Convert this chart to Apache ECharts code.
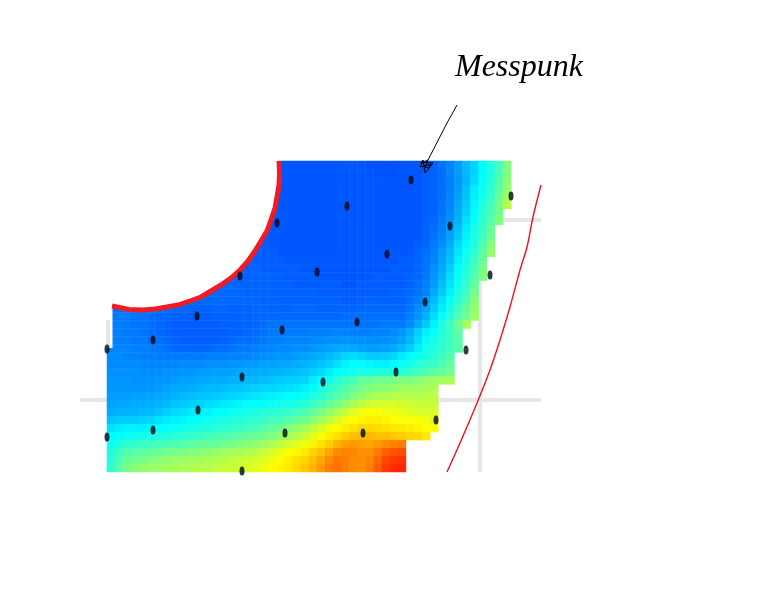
<!DOCTYPE html>
<html><head><meta charset="utf-8">
<style>html,body{margin:0;padding:0;background:#fff}#c{width:768px;height:614px}</style>
<script src="https://cdn.jsdelivr.net/npm/echarts@6/dist/echarts.min.js"></script></head>
<body><div id="c"></div>
<script>
// each row: [first column index, ...values]
const fieldRows = [
 [20,4,4,4,4,4,4,4,4,4,4, 4,4,3,3,3,3,4,4,4,5, 6,9,12,16,21,26,33,38,43,52],
 [20,4,4,4,4,4,4,4,4,4,4, 4,4,4,3,3,3,4,4,4,5, 6,8,12,16,21,26,33,38,44,52],
 [20,4,4,4,4,4,4,4,4,4,4, 4,4,4,4,4,4,4,4,4,5, 6,8,11,15,20,27,34,39,45,53],
 [20,4,4,4,4,4,4,4,4,4,4, 4,4,4,4,4,4,4,4,4,5, 6,8,11,16,22,30,35,40,47,54],
 [20,4,4,4,4,4,4,4,4,4,4, 4,4,4,4,4,4,4,4,4,5, 6,8,12,17,23,31,36,41,48,56],
 [20,4,4,4,4,4,4,4,4,4,4, 4,4,4,4,4,4,4,4,4,5, 6,9,12,18,24,32,38,43,50,58],
 [20,4,4,4,4,4,4,4,4,4,4, 4,4,4,4,4,4,4,4,4,5, 6,9,13,19,26,33,39,44,50],
 [20,4,4,4,4,4,4,4,4,4,4, 4,4,4,4,4,4,4,4,4,6, 7,10,14,20,28,34,40,46,52],
 [19,5, 4,4,4,4,4,4,4,4,4,4, 4,4,4,4,4,4,4,4,4,6, 8,11,16,22,30,36,42,48],
 [19,5, 4,4,4,4,4,4,4,4,4,4, 4,4,4,4,4,4,4,4,4,6, 9,12,17,24,31,37,43,50],
 [18,5,5, 4,4,4,4,4,4,4,4,4,4, 4,4,4,4,4,4,4,4,5,7, 10,14,19,27,33,38,45,52],
 [17,6,5,5, 5,4,4,4,4,4,4,4,4,4, 4,4,4,4,4,4,4,4,6,8, 11,16,21,29,35,40,47,54],
 [16,6,6,5,5, 5,5,4,4,4,4,4,4,4,4, 4,4,4,4,4,4,5,5,6,9, 12,17,23,31,36,42,49],
 [15,7,6,6,6,5, 5,5,5,5,4,4,4,4,4,4, 4,4,4,4,4,5,5,5,7,9, 14,18,25,33,38,44,51],
 [14,7,7,6,6,6,6, 6,6,5,5,5,5,4,4,4,4, 4,4,4,5,5,5,5,6,7,10, 15,20,27,34,39,45,52],
 [13,7,7,7,6,6,6,6, 6,6,6,5,5,5,5,5,5,4, 4,5,5,5,5,5,5,6,8,11, 16,22,29,36,41,48],
 [11,7,7,7,7,7,7,6,6,6, 6,6,6,6,6,6,5,5,5,5, 5,5,5,5,5,6,6,7,9,12, 18,24,31,37,43,50],
 [8,7,7, 7,7,7,7,7,7,7,7,7,6, 6,6,6,6,6,6,6,6,6,5, 5,6,6,6,6,6,6,8,11,16, 21,28,34,40,45,53],
 [0,9,9,9,9,9,9,8,8,7,7, 6,6,6,7,7,6,6,6,7,7, 6,6,6,7,7,7,6,6,6,6, 6,7,7,7,7,7,7,9,13,17, 24,30,36,42,48,54],
 [0,10,10,10,9,9,8,7,7,6,6, 5,5,5,6,6,6,6,6,7,7, 7,7,7,7,7,7,7,7,7,8, 8,8,8,8,8,8,8,11,15,20, 27,33,39,45,50,55],
 [0,11,11,10,9,9,8,7,6,5,5, 5,5,5,5,6,6,6,6,7,8, 9,9,9,9,9,9,9,9,9,9, 9,9,9,9,10,10,10,13,18,24, 31,37,42,49,56],
 [0,11,11,10,10,9,8,7,6,5,5, 5,5,5,5,5,6,6,7,8,9, 10,10,10,10,10,11,11,11,12,12, 11,11,11,12,12,13,15,19,25,31, 34,38,42,47],
 [0,12,11,11,10,10,8,8,7,6,5, 5,5,5,5,6,7,8,8,9,10, 11,11,12,12,12,13,13,14,14,15, 14,14,13,13,14,15,17,21,27,33, 36,39,42,46],
 [0,12,12,12,11,11,10,9,8,7,7, 7,7,7,8,8,9,10,10,11,12, 12,13,13,14,14,15,16,17,18,19, 18,17,16,16,17,18,21,25,30,36, 38,40,43,46],
 [0,13,13,12,12,11,11,10,10,10,10, 10,10,11,11,11,12,12,12,13,14, 14,15,15,16,17,18,19,21,23,26, 27,26,24,24,25,26,30,33,35,37, 39,42,45],
 [0,13,13,13,13,12,12,12,12,12,13, 13,13,14,14,14,15,15,16,16,17, 17,18,18,19,20,21,23,25,28,31, 33,33,32,31,31,33,35,37,39,41, 42,45,48],
 [0,14,14,14,14,13,13,13,14,14,15, 15,16,16,17,17,17,18,18,19,19, 20,20,21,22,23,25,27,30,33,35, 36,37,37,38,38,38,39,41,43,45, 47,48,50],
 [0,15,15,15,14,14,14,15,15,16,17, 17,18,18,19,19,20,20,21,21,22, 23,24,25,25,26,30,33,36,39,42, 44,48,49,50,50,51,52,52,53,54, 55,56,57],
 [0,15,15,15,15,15,15,16,17,18,18, 19,20,21,21,22,23,23,24,25,26, 26,27,28,29,31,33,37,40,43,45, 48,51,52,53,53,54,55,55,55,56, 57],
 [0,16,16,16,17,17,17,18,19,20,21, 22,23,23,24,25,26,27,28,29,30, 31,32,33,34,35,38,40,43,46,49, 52,54,56,57,57,58,58,58,58,58, 59],
 [0,17,18,18,19,19,19,20,21,23,24, 25,26,27,28,30,31,32,33,33,34, 35,36,37,38,39,42,45,48,51,54, 57,59,61,62,62,62,61,61,60,60, 60],
 [0,19,20,20,20,21,21,23,25,27,28, 30,31,32,33,34,35,36,37,38,39, 40,40,41,43,45,48,51,54,57,60, 63,65,66,66,65,65,64,63,62,62, 62],
 [0,23,24,24,24,25,26,28,30,31,32, 33,34,35,36,37,38,38,39,40,41, 43,44,46,48,50,53,56,59,62,65, 67,68,69,69,68,67,66,66,66,65, 63],
 [0,28,30,31,31,31,32,33,34,35,36, 37,38,38,39,40,41,42,43,44,46, 48,50,52,54,56,59,62,65,67,69, 71,73,73,72,71,70,70,69,68,67, 66],
 [0,33,34,35,36,36,37,38,38,39,40, 41,42,43,44,45,46,47,48,49,50, 52,54,56,58,60,63,66,69,71,74, 76,77,77,76,76,75,74,73,72,70],
 [0,36,38,40,41,42,43,44,44,45,46, 47,48,48,49,50,51,52,53,54,55, 57,59,61,63,65,68,71,74,78,81, 82,81,80,82,84,85,86],
 [0,38,42,45,46,47,48,49,50,51,51, 52,52,53,54,55,56,56,57,58,60, 62,64,66,68,70,73,76,80,84,85, 85,83,83,86,90,92,93],
 [0,39,45,49,50,51,52,53,54,55,55, 56,56,57,57,58,59,60,61,62,63, 65,67,69,71,73,76,80,84,87,86, 84,84,85,89,94,96,97],
 [0,40,47,51,53,54,55,55,56,56,57, 57,58,58,59,60,60,61,62,63,65, 67,68,70,72,75,78,82,86,88,86, 84,83,86,91,96,98,99]
];
const dotX = [411,347,277,450,387,317,240,490,425,197,357,282,153,107,466,396,242,323,198,436,153,285,363,107,242,511];
const dotY = [180,206,223,226,254,272,276,275,302,316,322,330,340,349,350,372,377,382,410,420,430,433,433,437,471,196];
const arcX = [112,129,143,155,167,178,190,201,211,221,231,240,248,255,261,267,271,275,277,279,279.5,279];
const arcY = [306,309.5,310,309,307,305,301,297,291,285,278,270,261,251,241,231,220,208,197,185,173,161];
const traceX = [447,460,477,490,500,510,520,527,533,541];
const traceY = [472,443,403,370,340,307,270,247,217,185];
const leaderX = [457,447,428];
const leaderY = [105,123,160];
const scribbleX = [420,433,425,423,420,432,427,422,428,424];
const scribbleY = [162,163,173,160,167,164,168,163,160,170];
const gridH = [[80,541,400],[437,541,400],[500,541,220]];
const gridV = [[480,277,472]];
const notchX = [108,108];
const notchY = [320,347];
const labelText = 'Messpunk';

const cols = Array.from({length:50},(_,i)=>i);
const rows = fieldRows.map((_,i)=>i);
const cells = [];
fieldRows.forEach((r,j)=>r.slice(1).forEach((v,k)=>cells.push([r[0]+k,j,v])));
const zip = (a,b)=>a.map((x,i)=>[x,b[i]]);
const lineBase = {type:'line',xAxisIndex:1,yAxisIndex:1,symbol:'none',silent:true,clip:false,animation:false};
const grayLines = [...gridH.map(g=>[[g[0],g[2]],[g[1],g[2]]]), ...gridV.map(g=>[[g[0],g[1]],[g[0],g[2]]])];

const chart = echarts.init(document.getElementById('c'),null,{renderer:'canvas'});
chart.setOption({
 animation:false, backgroundColor:'#fff',
 grid:[
  {left:107,top:161,width:404,height:311,containLabel:false},
  {left:0,top:0,width:768,height:614,containLabel:false}
 ],
 xAxis:[
  {type:'category',gridIndex:0,data:cols,show:false},
  {type:'value',gridIndex:1,min:0,max:768,show:false}
 ],
 yAxis:[
  {type:'category',gridIndex:0,data:rows,inverse:true,show:false},
  {type:'value',gridIndex:1,min:0,max:614,inverse:true,show:false}
 ],
 visualMap:{show:false,seriesIndex:grayLines.length,min:0,max:100,
  inRange:{color:['#0040ff','#00a0ff','#00ffff','#70ff90','#ffff00','#ff9000','#ff2000']}},
 series:[
  ...grayLines.map(d=>({...lineBase,z:1,data:d,lineStyle:{color:'#e6e6e6',width:4}})),
  {type:'heatmap',z:2,xAxisIndex:0,yAxisIndex:0,data:cells,silent:true,animation:false,progressive:0,itemStyle:{borderWidth:0}},
  {type:'custom',z:3,xAxisIndex:1,yAxisIndex:1,silent:true,clip:false,data:[0],
   renderItem(params,api){
     const pts = zip(arcX,arcY).map(p=>api.coord(p));
     pts.push(api.coord([279,158]));pts.push(api.coord([105,158]));pts.push(api.coord([105,306]));
     return {type:'polygon',shape:{points:pts},style:{fill:'#fff'}};
   }},
  {...lineBase,z:3,data:[[109,304],[109,348]],lineStyle:{color:'#fff',width:7}},
  {...lineBase,z:3,data:zip(notchX,notchY),lineStyle:{color:'#e6e6e6',width:4}},
  {...lineBase,z:4,data:zip(arcX,arcY),lineStyle:{color:'#ee1c25',width:5,cap:'butt',join:'round'}},
  {...lineBase,z:4,data:zip(traceX,traceY),smooth:0.3,lineStyle:{color:'#f01020',width:1.4}},
  {type:'scatter',z:5,xAxisIndex:1,yAxisIndex:1,silent:true,clip:false,data:zip(dotX,dotY),symbol:'circle',symbolSize:[5,9],itemStyle:{color:'#000812'}},
  {...lineBase,z:5,data:zip(leaderX,leaderY),lineStyle:{color:'#000',width:1}},
  {...lineBase,z:5,data:zip(scribbleX,scribbleY),lineStyle:{color:'#000',width:1}}
 ],
 graphic:[{type:'text',left:455,top:52,style:{text:labelText,fill:'#000',font:'italic 32px "Liberation Serif"'}}]
});
</script></body></html>
